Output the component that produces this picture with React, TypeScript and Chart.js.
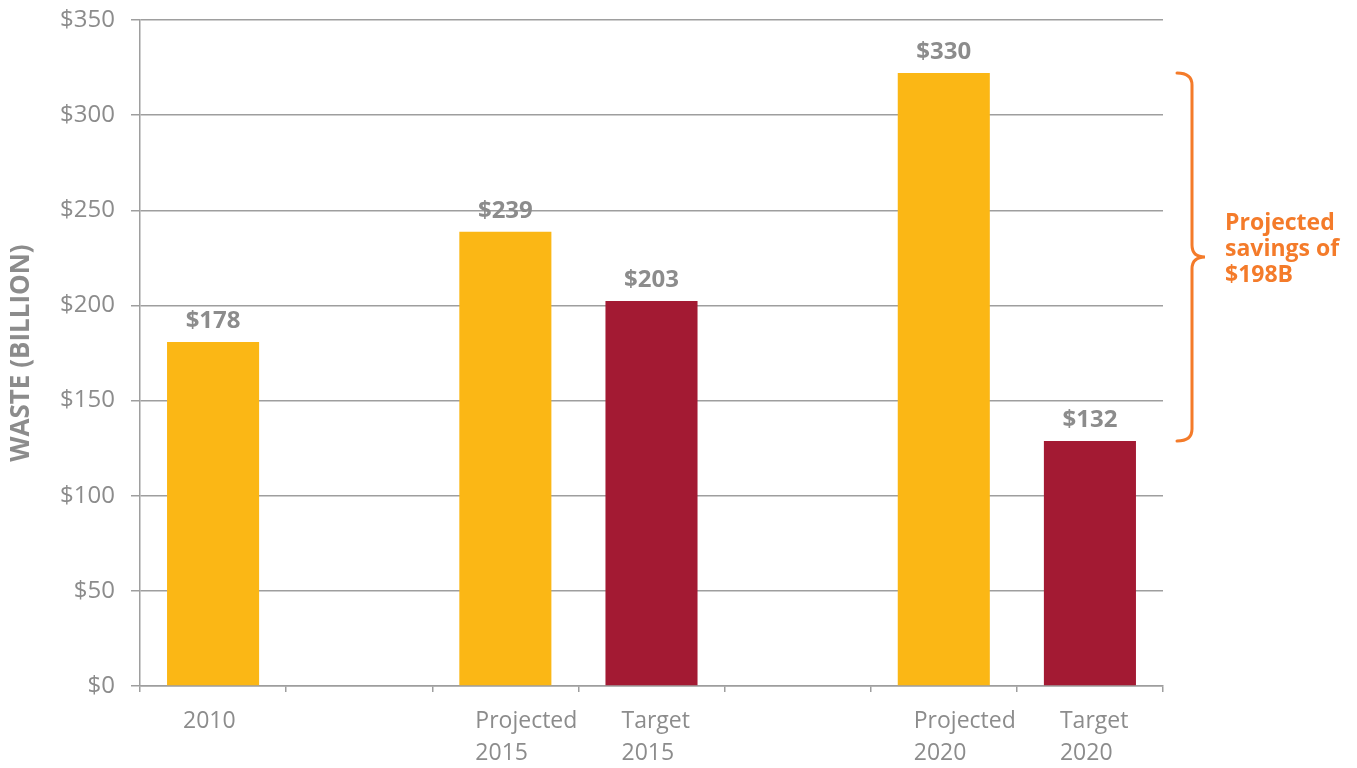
import React, { useEffect, useRef } from "react";
import { Chart, registerables } from "chart.js";

Chart.register(...registerables);

const categories: (string | string[])[] = [
  "2010",
  "",
  ["Projected", "2015"],
  ["Target", "2015"],
  "",
  ["Projected", "2020"],
  ["Target", "2020"],
];
const barValues: (number | null)[] = [180.8, null, 238.7, 202.3, null, 322.1, 128.7];
const barLabels: string[] = ["$178", "", "$239", "$203", "", "$330", "$132"];
const barColors: string[] = ["#FBB715", "#FBB715", "#FBB715", "#A31A33", "#FBB715", "#FBB715", "#A31A33"];
const yTicks: number[] = [0, 50, 100, 150, 200, 250, 300, 350];
const savingsText: string[] = ["Projected", "savings of", "$198B"];
const savingsFrom = 5; // index of projected 2020
const savingsTo = 6; // index of target 2020

const FONT = "'Open Sans', 'DejaVu Sans', sans-serif";
const GRAY_TEXT = "#8C8C8C";
const GRID = "#9E9E9E";
const ORANGE = "#F47B2A";

const annotationPlugin = {
  id: "annotations",
  afterDatasetsDraw(chart: any) {
    const ctx = chart.ctx;
    const meta = chart.getDatasetMeta(0);
    // value labels above bars
    ctx.save();
    ctx.font = `bold 24px ${FONT}`;
    ctx.fillStyle = GRAY_TEXT;
    ctx.textAlign = "center";
    ctx.textBaseline = "bottom";
    meta.data.forEach((bar: any, i: number) => {
      if (barValues[i] == null || !barLabels[i]) return;
      ctx.fillText(barLabels[i], bar.x, bar.y - 9);
    });
    ctx.restore();

    // brace
    const yScale = chart.scales.y;
    const area = chart.chartArea;
    const yTop = yScale.getPixelForValue(barValues[savingsFrom] as number);
    const yBot = yScale.getPixelForValue(barValues[savingsTo] as number);
    const mid = (yTop + yBot) / 2;
    const x0 = area.right + 14;
    const xv = area.right + 29;
    const xt = area.right + 42;
    const r = 12;
    ctx.save();
    ctx.strokeStyle = ORANGE;
    ctx.lineWidth = 3;
    ctx.lineCap = "round";
    ctx.beginPath();
    ctx.moveTo(x0, yTop);
    ctx.quadraticCurveTo(xv, yTop, xv, yTop + r);
    ctx.lineTo(xv, mid - r);
    ctx.quadraticCurveTo(xv, mid, xt, mid);
    ctx.quadraticCurveTo(xv, mid, xv, mid + r);
    ctx.lineTo(xv, yBot - r);
    ctx.quadraticCurveTo(xv, yBot, x0, yBot);
    ctx.stroke();

    ctx.font = `bold 23px ${FONT}`;
    ctx.fillStyle = ORANGE;
    ctx.textAlign = "left";
    ctx.textBaseline = "alphabetic";
    const lh = 26;
    savingsText.forEach((t, i) => {
      ctx.fillText(t, area.right + 62, mid - 27 + i * lh);
    });
    ctx.restore();
  },
};

export default function App() {
  const ref = useRef<HTMLCanvasElement | null>(null);
  useEffect(() => {
    if (!ref.current) return;
    const chart = new Chart(ref.current, {
      type: "bar",
      data: {
        labels: categories,
        datasets: [
          {
            data: barValues,
            backgroundColor: barColors,
            barPercentage: 0.63,
            categoryPercentage: 1,
          },
        ],
      },
      options: {
        animation: false,
        responsive: false,
        devicePixelRatio: 1,
        layout: { padding: { top: 20, right: 194, bottom: 0, left: 0 } },
        plugins: { legend: { display: false }, tooltip: { enabled: false } },
        scales: {
          x: {
            offset: true,
            grid: {
              offset: true,
              drawOnChartArea: false,
              drawTicks: true,
              tickLength: 6,
              color: GRID,
              lineWidth: 1.5,
            },
            border: { display: true, color: GRID, width: 1.5 },
            ticks: {
              align: "start",
              labelOffset: -30,
              padding: 14,
              color: GRAY_TEXT,
              font: { family: FONT, size: 23, lineHeight: 1.38 },
              maxRotation: 0,
              autoSkip: false,
            },
            afterFit: (scale: any) => {
              scale.height = 82;
              scale.paddingTop = 0;
              scale.paddingBottom = 0;
            },
          },
          y: {
            min: 0,
            max: 350,
            afterBuildTicks: (scale: any) => {
              scale.ticks = yTicks.map((v) => ({ value: v }));
            },
            grid: {
              color: GRID,
              lineWidth: 1.5,
              tickLength: 9,
              drawTicks: true,
            },
            border: { display: true, color: GRID, width: 1.5 },
            ticks: {
              padding: 16,
              color: GRAY_TEXT,
              font: { family: FONT, size: 24 },
              callback: (v: any) => "$" + v,
            },
            title: {
              display: true,
              text: "WASTE (BILLION)",
              color: GRAY_TEXT,
              font: { family: FONT, size: 26, weight: "bold", lineHeight: 1.2 },
              padding: { top: 6, bottom: 4 },
            },
            afterFit: (scale: any) => {
              scale.width = 140;
              scale.paddingTop = 0;
              scale.paddingBottom = 0;
            },
          },
        },
      },
      plugins: [annotationPlugin],
    });
    return () => chart.destroy();
  }, []);
  return (
    <div style={{ position: "fixed", left: 0, top: 0, width: 1357, height: 768, background: "#fff" }}>
      <canvas ref={ref} width={1357} height={768} />
    </div>
  );
}
